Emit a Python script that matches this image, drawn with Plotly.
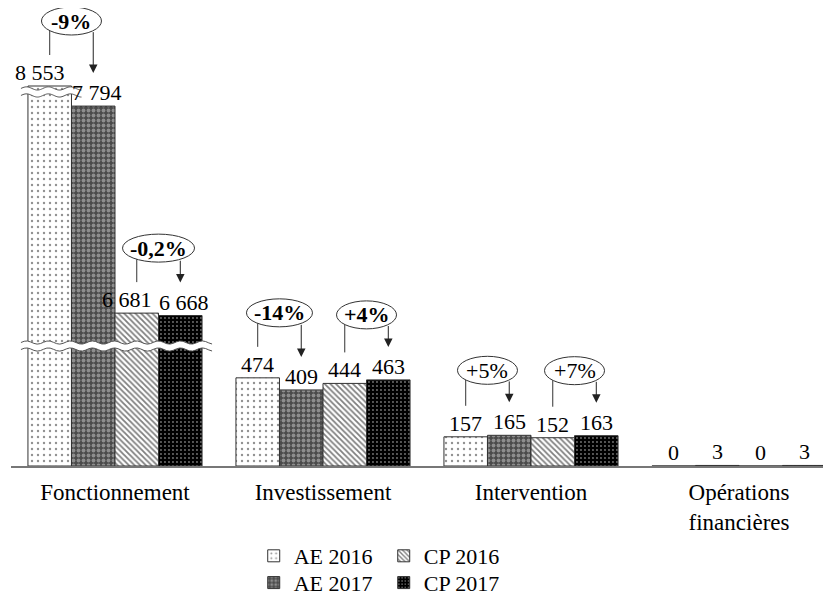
import numpy as np
import plotly.graph_objects as go

# données (millions d'euros)
categories = ["Fonctionnement", "Investissement", "Intervention", "Opérations<br>financières"]
ae_2016 = [8553, 474, 157, 0]
ae_2017 = [7794, 409, 165, 3]
cp_2016 = [6681, 444, 152, 0]
cp_2017 = [6668, 463, 163, 3]
ae_change = ["-9%", "-14%", "+5%", None]
cp_change = ["-0,2%", "+4%", "+7%", None]

# plages de valeurs coupées sur l'axe vertical
breaks = [(645, 6504), (7870, 8521)]

FONT = "Liberation Serif"
# la page ajoute une marge de 8 px autour de la figure
W, H = 823, 589
ML, MB = 3, 131
PX = 0.186            # pixels par unité affichée
U = 1 / PX            # unités par pixel (vertical)
XU = 1 / 208          # unités par pixel (horizontal)
BARGAP = 0.163
BW = (1 - BARGAP) / 4


def shown(v):
    d = v
    for lo, hi in breaks:
        if v >= hi:
            d -= hi - lo
    return d


def fmt(v):
    return f"{v:,}".replace(",", "\u00a0")


def offset(k):
    return (k - 1.5) * BW


series = [
    ("AE 2016", ae_2016, dict(shape=".", fgcolor="#222", bgcolor="white", size=6, solidity=0.12), "legend"),
    ("AE 2017", ae_2017, dict(shape=".", fgcolor="#d0d0d0", bgcolor="#4a4a4a", size=5, solidity=0.45), "legend2"),
    ("CP 2016", cp_2016, dict(shape="\\", fgcolor="black", bgcolor="white", size=4, solidity=0.45), "legend"),
    ("CP 2017", cp_2017, dict(shape=".", fgcolor="#e8e8e8", bgcolor="black", size=4, solidity=0.18), "legend2"),
]

x = list(range(len(categories)))
fig = go.Figure()
shapes, annots = [], []
for k, (name, vals, pat, lg) in enumerate(series):
    fig.add_trace(go.Bar(
        x=x, y=[shown(v) for v in vals], name=name,
        marker=dict(color="white", pattern=pat, line=dict(color="#333", width=1)),
        legend=lg, hoverinfo="skip",
    ))
    # étiquettes de valeurs
    for g, v in enumerate(vals):
        lab = fmt(v)
        shift = 0
        if len(lab) > 3:
            shift = -10 if k % 2 == 0 else 4
        annots.append(dict(x=g + offset(k), y=shown(v), text=lab, showarrow=False,
                           yanchor="bottom", xshift=shift, yshift=-1,
                           font=dict(family=FONT, size=22, color="black")))

# bulles de variation
for pair, changes in (((0, 1), ae_change), ((2, 3), cp_change)):
    a, b = pair
    va, vb = series[a][1], series[b][1]
    for g, lab in enumerate(changes):
        if lab is None:
            continue
        xa, xb = g + offset(a), g + offset(b)
        cx = (xa + xb) / 2
        top = max(shown(va[g]), shown(vb[g]))
        cy = top + 65 * U
        rx = (30 + 3 * (len(lab) - 3)) * XU
        ry = 14 * U
        shapes.append(dict(type="circle", xref="x", yref="y", x0=cx - rx, x1=cx + rx,
                           y0=cy - ry, y1=cy + ry, line=dict(color="#333", width=1),
                           fillcolor="white"))
        txt = f"<b>{lab}</b>" if g < 2 else lab
        annots.append(dict(x=cx, y=cy, text=txt, showarrow=False,
                           font=dict(family=FONT, size=22, color="black")))
        dx = (xb - xa) / 2
        edge = cy - ry * np.sqrt(max(0.0, 1 - (dx / rx) ** 2))
        shapes.append(dict(type="line", xref="x", yref="y", x0=xa, x1=xa, y0=edge,
                           y1=shown(va[g]) + 31 * U, line=dict(color="#333", width=1)))
        annots.append(dict(x=xb, y=shown(vb[g]) + 33 * U, ax=xb, ay=edge, xref="x", yref="y",
                           axref="x", ayref="y", text="", showarrow=True, arrowhead=2,
                           arrowsize=1.7, arrowwidth=1, arrowcolor="#222"))

# coupures de l'axe (vagues)
vals_all = [s[1] for s in series]
removed = 0
for lo, hi in breaks:
    level = lo - removed
    removed += hi - lo
    ks = [k for k in range(4) if vals_all[k][0] >= hi]
    x0 = offset(min(ks)) - BW / 2 - 7 * XU
    x1 = offset(max(ks)) + BW / 2 + 10 * XU
    xs = np.linspace(x0, x1, 60)
    wave = 1.6 * np.sin((xs - x0) / (22 * XU) * 2 * np.pi) * U
    up = level + 3.5 * U + wave
    dn = level - 3.5 * U + wave
    band = "M" + " L".join(f"{a},{b}" for a, b in zip(xs, up))
    band += " L" + " L".join(f"{a},{b}" for a, b in zip(xs[::-1], dn[::-1])) + " Z"
    shapes.append(dict(type="path", path=band, xref="x", yref="y",
                       fillcolor="white", line=dict(width=0)))
    for line in (up, dn):
        p = "M" + " L".join(f"{a},{b}" for a, b in zip(xs, line))
        shapes.append(dict(type="path", path=p, xref="x", yref="y",
                           line=dict(color="#555", width=1)))

legend_style = dict(orientation="h", x=0.296, xanchor="left", yanchor="middle",
                    font=dict(family=FONT, size=22), entrywidth=85,
                    traceorder="normal", bgcolor="rgba(0,0,0,0)")

fig.update_layout(
    width=W, height=H,
    margin=dict(l=ML, r=0, t=0, b=MB, autoexpand=False),
    plot_bgcolor="white", paper_bgcolor="white",
    barmode="group", bargap=BARGAP, bargroupgap=0,
    font=dict(family=FONT, size=22, color="black"),
    shapes=shapes, annotations=annots,
    xaxis=dict(range=[-0.5, -0.5 + (W - ML) / 208], tickvals=x, ticktext=categories,
               showline=True, linecolor="#777", linewidth=1.5, showgrid=False,
               zeroline=False, ticks="", automargin=False, ticklabelstandoff=5,
               tickfont=dict(family=FONT, size=23, color="black")),
    yaxis=dict(range=[0, (H - MB) * U], visible=False, automargin=False),
    legend=dict(legend_style, y=-0.1965),
    legend2=dict(legend_style, y=-0.255),
)

fig.write_html("out.html")
